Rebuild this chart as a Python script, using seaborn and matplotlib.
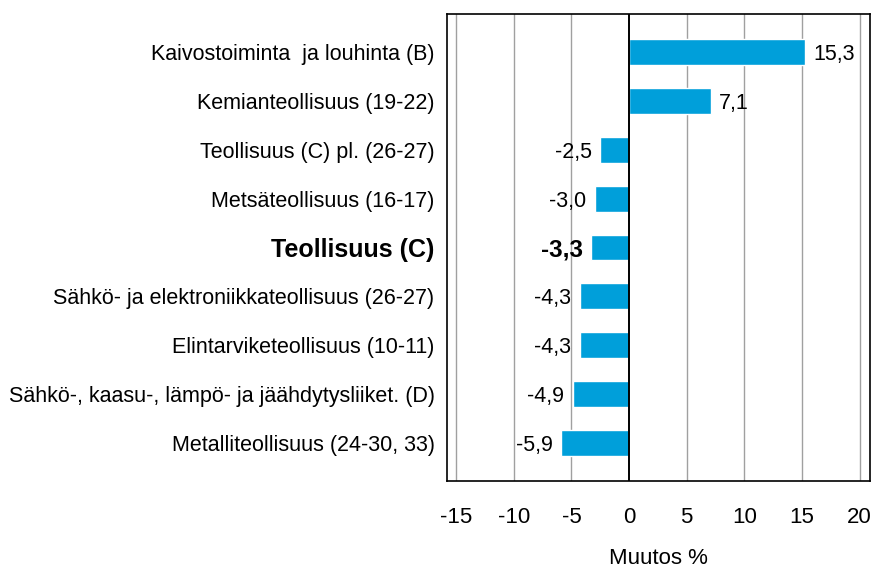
import matplotlib
matplotlib.use("Agg")
import matplotlib.pyplot as plt
import seaborn as sns
import pandas as pd

categories = [
    "Kaivostoiminta  ja louhinta (B)",
    "Kemianteollisuus (19-22)",
    "Teollisuus (C) pl. (26-27)",
    "Metsäteollisuus (16-17)",
    "Teollisuus (C)",
    "Sähkö- ja elektroniikkateollisuus (26-27)",
    "Elintarviketeollisuus (10-11)",
    "Sähkö-, kaasu-, lämpö- ja jäähdytysliiket. (D)",
    "Metalliteollisuus (24-30, 33)",
]
values = [15.3, 7.1, -2.5, -3.0, -3.3, -4.3, -4.3, -4.9, -5.9]
value_labels = ["15,3", "7,1", "-2,5", "-3,0", "-3,3", "-4,3", "-4,3", "-4,9", "-5,9"]
xticks = [-15, -10, -5, 0, 5, 10, 15, 20]
bold_category = "Teollisuus (C)"

sns.set_style("white")
plt.rcParams['font.family'] = ['Liberation Sans', 'DejaVu Sans']
plt.rcParams['text.color'] = 'black'
plt.rcParams['xtick.color'] = 'black'
plt.rcParams['ytick.color'] = 'black'
plt.rcParams['axes.labelcolor'] = 'black'

df = pd.DataFrame({"cat": categories, "val": values})

fig = plt.figure(figsize=(8.71, 5.69), dpi=100)
ax = fig.add_axes([447/871, (569-481)/569, (870-447)/871, (481-14)/569])

sns.barplot(data=df, x="val", y="cat", color="#009FDA", width=0.53,
            orient="h", ax=ax, saturation=1, zorder=3)

ax.set_xlim(-15.8, 20.9)
ax.set_ylim(8.78, -0.78)
ax.set_xticks(xticks)
ax.set_xticklabels([str(t) for t in xticks], fontsize=16)
for t in xticks:
    ax.axvline(t, color="#000000" if t == 0 else "#a0a0a0",
               lw=1.4 if t == 0 else 1.0, zorder=1 if t != 0 else 4)
ax.tick_params(axis="x", direction="out", length=8, width=1.2, color="black", pad=11)
ax.tick_params(axis="y", length=0, pad=9)
ax.set_ylabel("")
ax.set_xlabel("Muutos %", fontsize=16, labelpad=14)

for lab in ax.get_yticklabels():
    lab.set_color("black")
    if lab.get_text() == bold_category:
        lab.set_fontweight("bold")
        lab.set_fontsize(18)
    else:
        lab.set_fontsize(15.5)

for i, (v, s) in enumerate(zip(values, value_labels)):
    bold = categories[i] == bold_category
    ax.annotate(s, (v, i), xytext=(6 if v >= 0 else -6, 0), textcoords="offset points",
                ha="left" if v >= 0 else "right", va="center_baseline",
                fontsize=17.5 if bold else 15.5, fontweight="bold" if bold else "normal",
                color="black", zorder=5)

for sp in ax.spines.values():
    sp.set_color("black")
    sp.set_linewidth(1.2)

fig.savefig("out.png", dpi=100)
